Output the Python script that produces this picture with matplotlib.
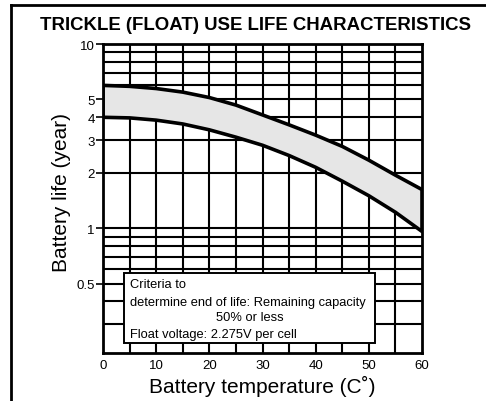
import matplotlib
matplotlib.use("Agg")
import matplotlib.pyplot as plt
from matplotlib.lines import Line2D
import numpy as np

plt.rcParams['font.family'] = ['Liberation Sans', 'DejaVu Sans']

# ---- data ----
temps = [0, 5, 10, 15, 20, 25, 30, 35, 40, 45, 50, 55, 60]
life_upper = [5.96, 5.89, 5.73, 5.48, 5.12, 4.66, 4.12, 3.64, 3.2, 2.78, 2.34, 1.94, 1.62]
life_lower = [4.0, 3.97, 3.86, 3.68, 3.42, 3.12, 2.82, 2.48, 2.14, 1.8, 1.5, 1.22, 0.96]
x_ticks = [0, 10, 20, 30, 40, 50, 60]
y_ticks = [0.5, 1, 2, 3, 4, 5, 10]
y_tick_labels = ["0.5", "1", "2", "3", "4", "5", "10"]
x_grid = [5, 10, 15, 20, 25, 30, 35, 40, 45, 50, 55]
y_grid = [0.3, 0.4, 0.5, 0.6, 0.7, 0.8, 0.9, 1, 2, 3, 4, 5, 6, 7, 8, 9]
title = "TRICKLE (FLOAT) USE LIFE CHARACTERISTICS"
xlabel = "Battery temperature (C\u02da)"
ylabel = "Battery life (year)"
note_lines = ["Criteria to",
              "determine end of life: Remaining capacity",
              "50% or less",
              "Float voltage: 2.275V per cell"]

fig = plt.figure(figsize=(4.86, 4.02), dpi=100)
ax = fig.add_axes([103/486, 1-354/402, (422-103)/486, (354-45)/402])
ax.set_yscale('log')
ax.set_xlim(0, 60)
ax.set_ylim(0.21, 10)

# grid
for gx in x_grid:
    ax.axvline(gx, color='black', lw=1.5, zorder=1)
for gy in y_grid:
    ax.axhline(gy, color='black', lw=1.5, zorder=1)

# band
t = np.array(temps)
up = np.array(life_upper)
lo = np.array(life_lower)
px = np.concatenate([t, t[::-1]])
py = np.concatenate([up, lo[::-1]])
ax.fill(px, py, facecolor='#e6e6e6', edgecolor='black', lw=2.6, zorder=3,
        joinstyle='round')

# ticks
ax.set_xticks(x_ticks)
ax.set_xticklabels([str(v) for v in x_ticks])
ax.set_yticks(y_ticks)
ax.set_yticklabels(y_tick_labels)
ax.yaxis.set_minor_locator(matplotlib.ticker.NullLocator())
ax.tick_params(axis='y', length=5, width=1.2, pad=1, labelsize=9.5, color='black')
ax.tick_params(axis='x', length=0, pad=4, labelsize=9.5)
for s in ax.spines.values():
    s.set_linewidth(2)
    s.set_zorder(5)

ax.set_xlabel(xlabel, fontsize=15, labelpad=3)
ax.set_ylabel(ylabel, fontsize=15)
ax.yaxis.set_label_coords(-0.1, 0.524)

# note box (axes-fraction placement)
bl, br, bb, bt = 0.0658, 0.853, 0.032, 0.259
ax.fill([bl, br, br, bl], [bb, bb, bt, bt], transform=ax.transAxes,
        facecolor='white', edgecolor='black', lw=1.4, zorder=4)
tx = 0.085
ax.text(tx, 0.223, note_lines[0], fontsize=9.3, transform=ax.transAxes,
        va='center', ha='left', zorder=6)
ax.text(tx, 0.166, note_lines[1], fontsize=9.3, transform=ax.transAxes,
        va='center', ha='left', zorder=6)
ax.text(0.46, 0.1155, note_lines[2], fontsize=9.3, transform=ax.transAxes,
        va='center', ha='center', zorder=6)
ax.text(tx, 0.0615, note_lines[3], fontsize=9.3, transform=ax.transAxes,
        va='center', ha='left', zorder=6)

fig.text(255/486, 1-25/402, title, fontsize=13.4, fontweight='bold', ha='center', va='center')

# outer frame (left and top edges)
fig.add_artist(Line2D([11/486, 11/486], [0, 1-6/402], color='black', lw=2))
fig.add_artist(Line2D([11/486, 1], [1-6/402, 1-6/402], color='black', lw=2))

fig.savefig('out.png', dpi=100)
